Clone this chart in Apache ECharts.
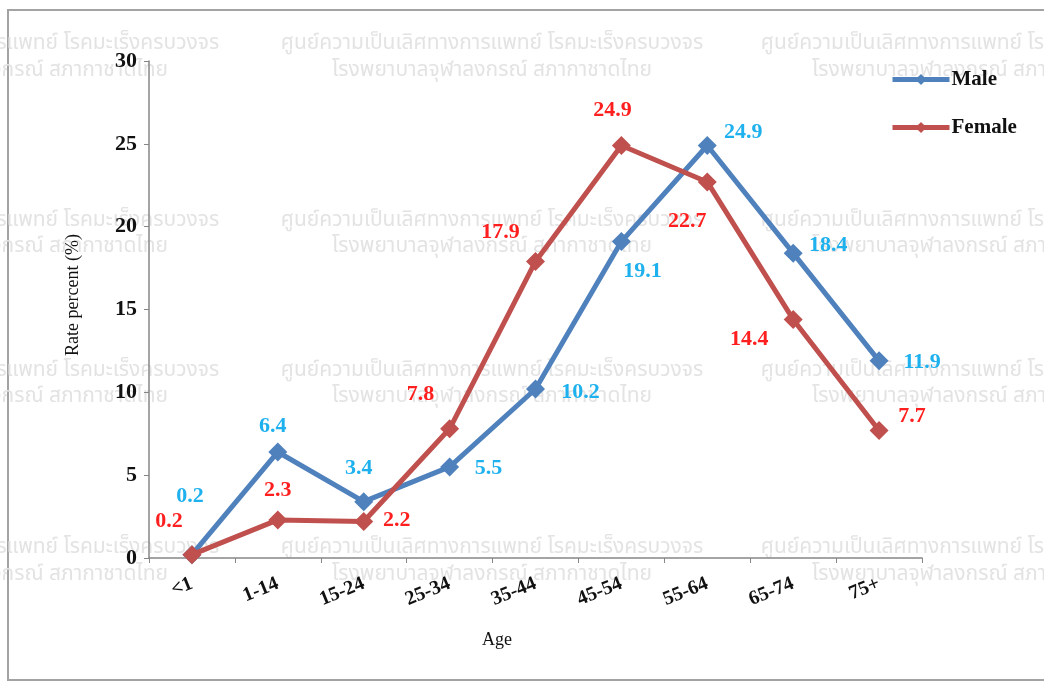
<!DOCTYPE html>
<html>
<head>
<meta charset="utf-8">
<script src="https://cdn.jsdelivr.net/npm/echarts@6/dist/echarts.min.js"></script>
<style>
html,body{margin:0;padding:0;background:#fff;}
#c{width:1044px;height:684px;}
</style>
</head>
<body>
<div id="c"></div>
<script>
// ---- data ----
var categories = ['<1', '1-14', '15-24', '25-34', '35-44', '45-54', '55-64', '65-74', '75+'];
var male = [0.2, 6.4, 3.4, 5.5, 10.2, 19.1, 24.9, 18.4, 11.9];
var female = [0.2, 2.3, 2.2, 7.8, 17.9, 24.9, 22.7, 14.4, 7.7];
var yTicks = [0, 5, 10, 15, 20, 25, 30];
var yAxisTitle = 'Rate percent (%)';
var xAxisTitle = 'Age';
var watermarkLine1 = 'ศูนย์ความเป็นเลิศทางการแพทย์ โรคมะเร็งครบวงจร';
var watermarkLine2 = 'โรงพยาบาลจุฬาลงกรณ์ สภากาชาดไทย';

// ---- label placement (style) ----
var maleOff = [[-2,-58],[-5,-26],[-5,-33],[39,1],[45,3],[21,30],[36,-13],[35,-8],[43,1]];
var femaleOff = [[-23,-33],[0,-30],[33,-1],[-29,-34],[-35,-29],[-9,-35],[-20,39],[-44,20],[33,-14]];

var serif = '"Liberation Serif","Times New Roman",serif';
var thai = '"Noto Sans Thai","Loma","Garuda","Norasi","Noto Sans",sans-serif';

function items(vals, offs, color) {
  return vals.map(function (v, i) {
    return {
      value: v,
      label: {
        show: true, position: 'inside', align: 'center', verticalAlign: 'middle',
        offset: offs[i], color: color, fontFamily: serif, fontWeight: 'bold', fontSize: 22
      }
    };
  });
}

// watermark + frame graphics
var g = [];
g.push({ type: 'rect', shape: { x: 8, y: 10, width: 1040, height: 670 }, z: 0, silent: true,
  style: { fill: '#fff', stroke: '#a3a3a3', lineWidth: 2 } });
var cols = [8, 492, 972];
var rows = [[45, 72], [222, 248], [372, 398], [549, 576]];
rows.forEach(function (r) {
  cols.forEach(function (cx) {
    g.push({ type: 'text', x: cx, y: r[0], z: 0, silent: true,
      style: { text: watermarkLine1, fill: '#e3e3e3', font: '21px ' + thai, textAlign: 'center', textVerticalAlign: 'middle' } });
    g.push({ type: 'text', x: cx, y: r[1], z: 0, silent: true,
      style: { text: watermarkLine2, fill: '#e3e3e3', font: '21px ' + thai, textAlign: 'center', textVerticalAlign: 'middle' } });
  });
});
g.push({ type: 'text', x: 73, y: 295, rotation: Math.PI / 2, z: 5, silent: true,
  style: { text: yAxisTitle, fill: '#111', font: '18px ' + serif, textAlign: 'center', textVerticalAlign: 'middle' } });
g.push({ type: 'text', x: 497, y: 640, z: 5, silent: true,
  style: { text: xAxisTitle, fill: '#111', font: '18px ' + serif, textAlign: 'center', textVerticalAlign: 'middle' } });

var chart = echarts.init(document.getElementById('c'), null, { renderer: 'canvas' });
chart.setOption({
  animation: false,
  backgroundColor: '#fff',
  graphic: g,
  grid: { left: 149, right: 122, top: 61, bottom: 126 },
  legend: {
    orient: 'vertical', left: 890, top: 69, padding: 0, itemWidth: 57, itemHeight: 14, itemGap: 27,
    data: ['Male', 'Female'],
    lineStyle: { width: 5 },
    textStyle: { fontFamily: serif, fontWeight: 'bold', fontSize: 21, color: '#111', padding: [0, 0, 0, -3] }
  },
  xAxis: {
    type: 'category', data: categories, boundaryGap: true,
    axisLine: { lineStyle: { color: '#868686', width: 1.5 } },
    axisTick: { show: true, alignWithLabel: false, length: 5, lineStyle: { color: '#868686' } },
    axisLabel: { rotate: 22, margin: 25, fontFamily: serif, fontWeight: 'bold', fontSize: 20, color: '#111' },
    splitLine: { show: false }
  },
  yAxis: {
    type: 'value', min: 0, max: 30, interval: 5,
    axisLine: { show: true, lineStyle: { color: '#868686', width: 1.5 } },
    axisTick: { show: true, length: 5, lineStyle: { color: '#868686' } },
    axisLabel: { margin: 12, fontFamily: serif, fontWeight: 'bold', fontSize: 22, color: '#111',
      formatter: function (v) { return yTicks.indexOf(v) >= 0 ? String(v) : ''; } },
    splitLine: { show: false }
  },
  series: [
    { name: 'Male', type: 'line', data: items(male, maleOff, '#1EB1EE'),
      symbol: 'diamond', symbolSize: 19, lineStyle: { width: 5, color: '#4F81BD' },
      itemStyle: { color: '#4F81BD' }, z: 3 },
    { name: 'Female', type: 'line', data: items(female, femaleOff, '#FF1F1F'),
      symbol: 'diamond', symbolSize: 19, lineStyle: { width: 5, color: '#C0504D' },
      itemStyle: { color: '#C0504D' }, z: 4 }
  ]
});
</script>
</body>
</html>
